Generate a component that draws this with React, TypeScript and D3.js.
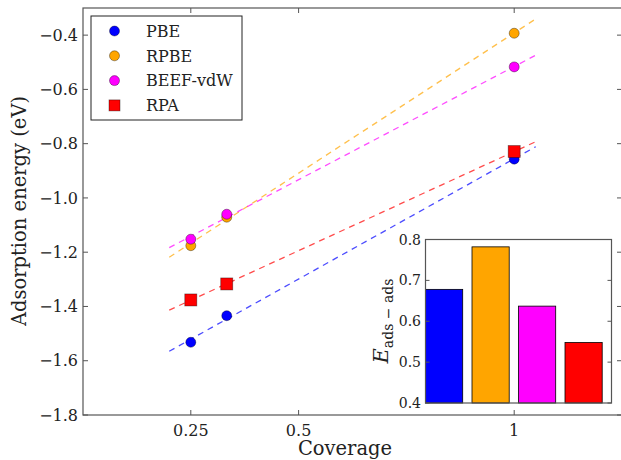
import React from "react";
import * as d3 from "d3";

const coverage = [0.25, 1 / 3, 1];
const seriesNames = ["PBE", "RPBE", "BEEF-vdW", "RPA"];
const seriesColors = ["#0000ff", "#ffa500", "#ff00ff", "#ff0000"];
const seriesMarkers = ["circle", "circle", "circle", "square"];
const pbe = [-1.532, -1.434, -0.857];
const rpbe = [-1.176, -1.071, -0.393];
const beef = [-1.152, -1.06, -0.517];
const rpa = [-1.376, -1.317, -0.829];
const seriesValues = [pbe, rpbe, beef, rpa];
const xTicks = [0.25, 0.5, 1];
const xTickLabels = ["0.25", "0.5", "1"];
const yTicks = [-1.8, -1.6, -1.4, -1.2, -1.0, -0.8, -0.6, -0.4];
const fitRange = [0.2, 1.05];

const insetValues = [0.678, 0.782, 0.637, 0.548];
const insetTicks = [0.4, 0.5, 0.6, 0.7, 0.8];

const FONT = "'DejaVu Serif', serif";

function fit(xs: number[], ys: number[]) {
  const mx = d3.mean(xs)!;
  const my = d3.mean(ys)!;
  let sxy = 0, sxx = 0;
  xs.forEach((x, i) => {
    sxy += (x - mx) * (ys[i] - my);
    sxx += (x - mx) * (x - mx);
  });
  const b = sxy / sxx;
  const a = my - b * mx;
  return (x: number) => a + b * x;
}

const fmt = (v: number) => v.toFixed(1).replace("-", "\u2212");

export default function App() {
  const x = d3.scaleLinear().domain([0, 1.25]).range([83, 622]);
  const y = d3.scaleLinear().domain([-1.8, -0.3]).range([415, 8]);

  const ix = d3.scaleLinear().domain([0, 4]).range([425.5, 611.5]);
  const iy = d3.scaleLinear().domain([0.4, 0.8]).range([403, 239.5]);

  const line = d3
    .line<number[]>()
    .x((d) => x(d[0]))
    .y((d) => y(d[1]));

  const spine = "#555";

  return (
    <svg
      width={621}
      height={460}
      style={{ position: "absolute", left: 0, top: 0, background: "#fff" }}
      fontFamily={FONT}
    >
      <rect x={0} y={0} width={621} height={460} fill="#fff" />
      {/* fit lines */}
      {seriesValues.map((vals, i) => {
        const f = fit(coverage, vals);
        return (
          <path
            key={"fit" + i}
            d={line(fitRange.map((c) => [c, f(c)]))!}
            stroke={seriesColors[i]}
            strokeOpacity={0.7}
            strokeWidth={1.3}
            strokeDasharray="6,5"
            fill="none"
          />
        );
      })}
      {/* points */}
      {seriesValues.map((vals, i) =>
        vals.map((v, j) =>
          seriesMarkers[i] === "circle" ? (
            <circle
              key={`p${i}-${j}`}
              cx={x(coverage[j])}
              cy={y(v)}
              r={5}
              fill={seriesColors[i]}
              stroke="#000"
              strokeOpacity={0.45}
              strokeWidth={0.8}
            />
          ) : (
            <rect
              key={`p${i}-${j}`}
              x={x(coverage[j]) - 6}
              y={y(v) - 6}
              width={12}
              height={12}
              fill={seriesColors[i]}
              stroke="#000"
              strokeOpacity={0.45}
              strokeWidth={0.8}
            />
          )
        )
      )}
      {/* main frame */}
      <rect x={83} y={8} width={539} height={407} fill="none" stroke={spine} strokeWidth={1.2} />
      {xTicks.map((t, i) => (
        <g key={"xt" + i}>
          <line x1={x(t)} x2={x(t)} y1={415} y2={410} stroke={spine} />
          <line x1={x(t)} x2={x(t)} y1={8} y2={13} stroke={spine} />
          <text x={x(t)} y={436} textAnchor="middle" fontSize={16} fill="#222">
            {xTickLabels[i]}
          </text>
        </g>
      ))}
      {yTicks.map((t, i) => (
        <g key={"yt" + i}>
          <line x1={83} x2={88} y1={y(t)} y2={y(t)} stroke={spine} />
          <line x1={622} x2={617} y1={y(t)} y2={y(t)} stroke={spine} />
          <text x={78} y={y(t)} dy="0.36em" textAnchor="end" fontSize={16} fill="#222">
            {fmt(t)}
          </text>
        </g>
      ))}
      <text x={345} y={455} textAnchor="middle" fontSize={19.5} fill="#222">
        Coverage
      </text>
      <text
        transform={`translate(26, 211) rotate(-90)`}
        textAnchor="middle"
        fontSize={19.5}
        fill="#222"
      >
        Adsorption energy (eV)
      </text>
      {/* legend */}
      <rect x={91} y={16} width={151} height={104} fill="#fff" stroke="#222" strokeWidth={1} />
      {seriesNames.map((n, i) => {
        const cy = 31 + i * 24.8;
        return (
          <g key={"lg" + i}>
            {seriesMarkers[i] === "circle" ? (
              <circle cx={114.5} cy={cy} r={5} fill={seriesColors[i]} stroke="#000" strokeOpacity={0.45} strokeWidth={0.8} />
            ) : (
              <rect x={109} y={cy - 5.5} width={11} height={11} fill={seriesColors[i]} stroke="#000" strokeOpacity={0.45} strokeWidth={0.8} />
            )}
            <text x={146} y={cy} dy="0.36em" fontSize={16} fill="#222">
              {n}
            </text>
          </g>
        );
      })}
      {/* inset */}
      <rect x={425.5} y={239.5} width={186} height={163.5} fill="#fff" />
      {insetValues.map((v, i) => (
        <rect
          key={"bar" + i}
          x={ix(i)}
          y={iy(v)}
          width={ix(i + 0.8) - ix(i)}
          height={iy(0.4) - iy(v)}
          fill={seriesColors[i]}
          stroke="#000"
          strokeWidth={0.8}
        />
      ))}
      <rect x={425.5} y={239.5} width={186} height={163.5} fill="none" stroke={spine} strokeWidth={1.2} />
      {insetTicks.map((t, i) => (
        <g key={"it" + i}>
          <line x1={425.5} x2={429.5} y1={iy(t)} y2={iy(t)} stroke={spine} />
          <line x1={611.5} x2={607.5} y1={iy(t)} y2={iy(t)} stroke={spine} />
          <text x={421} y={iy(t)} dy="0.36em" textAnchor="end" fontSize={14} fill="#222">
            {t.toFixed(1)}
          </text>
        </g>
      ))}
      <text transform={`translate(388, 321) rotate(-90)`} textAnchor="middle" fill="#222">
        <tspan fontStyle="italic" fontSize={21}>E</tspan>
        <tspan fontSize={14} dy={5}>ads − ads</tspan>
      </text>
    </svg>
  );
}
